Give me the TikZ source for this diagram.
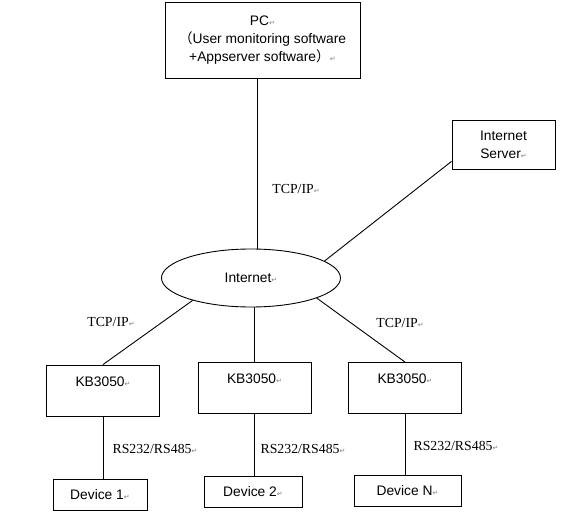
\documentclass[tikz,border=0pt]{standalone}
\usepackage{fontspec}
\setmainfont{Liberation Sans}
\newfontfamily\serifl{Liberation Serif}
\newfontfamily\cjk{Noto Sans CJK SC}
\newfontfamily\symf{DejaVu Sans}
\usetikzlibrary{shapes.geometric}
\newcommand\retmark{{\symf\color{gray}\fontsize{7}{7}\selectfont ↵}}
\begin{document}
\begin{tikzpicture}[x=1pt,y=-1pt,line width=0.9pt,
   every node/.style={font=\fontsize{13.8}{18}\selectfont},
   box/.style={draw,inner sep=0pt},
   kb/.style={box,minimum width=113,text height=21,text depth=30},
   dev/.style={box,minimum height=31},
   lbl/.style={inner sep=0pt,font=\fontsize{13.8}{18}\selectfont\serifl}]
   \useasboundingbox (0,0) rectangle (573,529);
   % top row
   \node[box,minimum width=195,minimum height=76,align=center] (pc) at (262.5,40)
      {PC\retmark\\{\cjk （}User monitoring software\\ +Appserver software{\cjk ）}\retmark};
   \node[box,minimum width=103,minimum height=49,align=center] (srv) at (503.5,144.5)
      {Internet\\Server\retmark};
   \node[draw,ellipse,minimum width=179,minimum height=58,inner sep=0pt] (inet) at (251,278)
      {Internet\retmark};
   \coordinate (drop) at (257,0);
   % gateways
   \node[kb] (kb1) at (103,390.5) {KB3050\retmark};
   \node[kb] (kb2) at (254.5,388) {KB3050\retmark};
   \node[kb] (kb3) at (405,388) {KB3050\retmark};
   % devices
   \node[dev,minimum width=94] (dev1) at (100,494.5) {Device 1\retmark};
   \node[dev,minimum width=98] (dev2) at (253,492) {Device 2\retmark};
   \node[dev,minimum width=107] (devn) at (407.5,491) {Device N\retmark};
   % labels
   \node[lbl] (tcp0) at (296,189) {TCP/IP\retmark};
   \node[lbl] (tcp1) at (111,322) {TCP/IP\retmark};
   \node[lbl] (tcp3) at (400,323) {TCP/IP\retmark};
   \node[lbl] (rs1) at (155,449) {RS232/RS485\retmark};
   \node[lbl] (rs2) at (303,449) {RS232/RS485\retmark};
   \node[lbl] (rs3) at (456,446) {RS232/RS485\retmark};
   % links
   \draw (pc.south -| drop) -- (drop |- inet.north);
   \draw (srv.198) -- (inet.13);
   \draw (inet.201) -- (kb1.north);
   \draw (kb2.north |- inet.south) -- (kb2.north);
   \draw (inet.343) -- (kb3.north);
   \draw (kb1.south) -- (kb1.south |- dev1.north);
   \draw (kb2.south) -- (kb2.south |- dev2.north);
   \draw (kb3.south) -- (kb3.south |- devn.north);
\end{tikzpicture}
\end{document}
